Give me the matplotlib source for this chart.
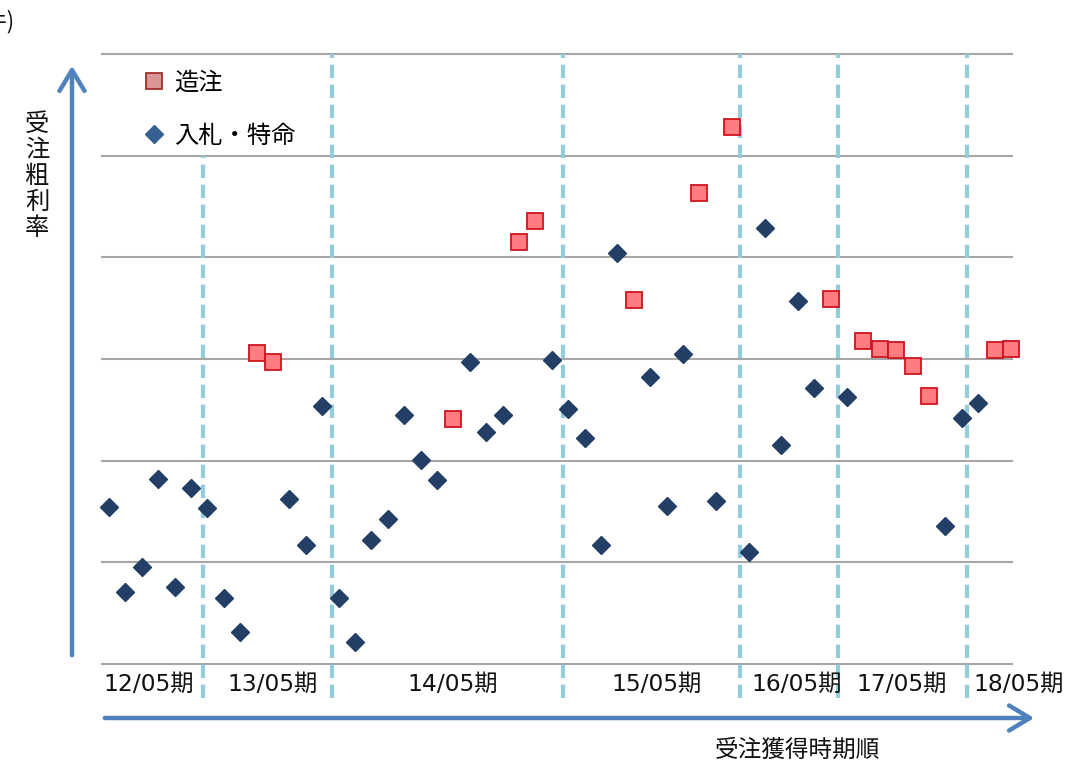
import numpy as np
import matplotlib.pyplot as plt
from matplotlib.lines import Line2D
from matplotlib.patches import FancyArrowPatch

plt.rcParams['font.family'] = ['DejaVu Sans', 'Noto Sans CJK JP']

# 受注順 (1..56) と受注粗利率 (目盛なし、相対値)
order_zochu = [10, 11, 22, 26, 27, 33, 37, 39, 45, 47, 48, 49, 50, 51, 55, 56]
rate_zochu = [3.06, 2.97, 2.41, 4.15, 4.36, 3.58, 4.63, 5.28, 3.59, 3.18, 3.10, 3.09, 2.93, 2.64, 3.09, 3.10]

order_nyusatsu = [1, 2, 3, 4, 5, 6, 7, 8, 9, 12, 13, 14, 15, 16, 17, 18, 19, 20, 21,
                  23, 24, 25, 28, 29, 30, 31, 32, 34, 35, 36, 38, 40, 41, 42, 43, 44,
                  46, 52, 53, 54]
rate_nyusatsu = [1.54, 0.71, 0.95, 1.82, 0.76, 1.73, 1.53, 0.65, 0.31, 1.62, 1.17, 2.54,
                 0.65, 0.22, 1.22, 1.43, 2.45, 2.01, 1.81, 2.97, 2.28, 2.45, 2.99, 2.51,
                 2.22, 1.17, 4.04, 2.82, 1.55, 3.05, 1.60, 1.10, 4.29, 2.15, 3.57, 2.71,
                 2.63, 1.36, 2.42, 2.57]

# 期の区切り
period_bounds = [6.75, 14.62, 28.66, 39.48, 45.47, 53.30]
period_labels = ['12/05期', '13/05期', '14/05期', '15/05期', '16/05期', '17/05期', '18/05期']
period_label_x = [3.45, 10.95, 21.95, 34.4, 42.95, 49.35, 56.45]

jp = ['Noto Sans CJK JP', 'DejaVu Sans']

fig = plt.figure(figsize=(10.84, 7.63), dpi=100)
W, H = 1084, 763
ax = fig.add_axes([102 / W, (H - 664) / H, 910 / W, 610 / H])
ax.set_xlim(0.57, 56.06)
ax.set_ylim(0, 6)

for y in range(7):
    ax.axhline(y, color='#A6A6A6', lw=1.5, zorder=1, clip_on=False)

for i, xb in enumerate(period_bounds):
    top = 5.0 if i == 0 else 6.0
    ax.plot([xb, xb], [-0.33, top], color='#92CDDC', lw=3, ls=(0, (3.2, 1.6)),
            zorder=2, clip_on=False)

ax.plot(order_nyusatsu, rate_nyusatsu, 'D', ms=9, color='#243F66', mec='#243F66',
        zorder=3, clip_on=False)
ax.plot(order_zochu, rate_zochu, 's', ms=11.5, mfc='#FF7C80', mec='#D0141E', mew=1.3,
        zorder=4, clip_on=False)

for lx, lab in zip(period_label_x, period_labels):
    ax.text(lx, -0.2, lab, ha='center', va='center', fontsize=16.8, color='#111111')

for s in ax.spines.values():
    s.set_visible(False)
ax.set_xticks([])
ax.set_yticks([])

handles = [
    Line2D([], [], ls='none', marker='s', ms=11, mfc='#D99694', mec='#A0302D', mew=1.3),
    Line2D([], [], ls='none', marker='D', ms=9, color='#366092'),
]
ax.legend(handles, ['造注', '入札・特命'], loc='upper left', bbox_to_anchor=(0.045, 0.974),
          frameon=False, prop={'family': jp, 'size': 17.5}, handlelength=0.9,
          handletextpad=0.4, labelspacing=1.1, borderaxespad=0, borderpad=0)

# 軸の矢印
def axis_arrow(start, end):
    return FancyArrowPatch((start[0] / W, (H - start[1]) / H), (end[0] / W, (H - end[1]) / H),
                           transform=fig.transFigure, color='#4F81BD', lw=3.2,
                           arrowstyle='->,head_length=0.75,head_width=0.45', mutation_scale=20)

fig.patches.extend([axis_arrow((72, 658), (72, 63)), axis_arrow((102, 718), (1037, 718))])

fig.text(37 / W, (H - 176) / H, '受\n注\n粗\n利\n率', ha='center', va='center',
         fontsize=17.5, linespacing=1.0, color='#111111', family=jp)
fig.text(797 / W, (H - 750) / H, '受注獲得時期順', ha='center', va='center',
         fontsize=17, color='#111111', family=jp)
fig.text(14 / W, (H - 22) / H, '(件)', ha='right', va='center', fontsize=16, color='#111111',
         family=jp)

fig.savefig('out.png', dpi=100)
